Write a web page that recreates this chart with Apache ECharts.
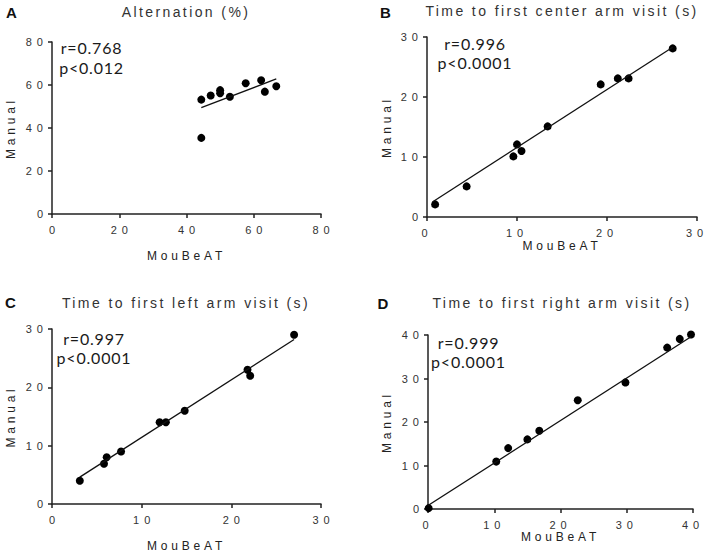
<!DOCTYPE html>
<html><head><meta charset="utf-8">
<script src="https://cdn.jsdelivr.net/npm/echarts@6/dist/echarts.min.js"></script>
<style>
html,body{margin:0;padding:0;background:#fff}
#chart{width:708px;height:557px}
#chart text[style*="Liberation Sans"]{letter-spacing:5px}
#chart text[style*="Arial"]{letter-spacing:3.8px}
#chart text[style*="Arial, sans-serif"]{letter-spacing:2.4px}
#chart text[style*="Lato"]{letter-spacing:0.8px}
#chart text[style*="bold"]{letter-spacing:0}
</style></head><body><div id="chart"></div>
<script>
// Panel A: Alternation (%)
const aX = [44.4, 44.4, 47.2, 50.0, 50.0, 52.9, 57.6, 62.2, 63.3, 66.7];
const aY = [53.2, 35.4, 55.1, 57.6, 56.2, 54.5, 60.8, 62.2, 56.9, 59.4];
const aFit = [[44.4, 49.5], [66.7, 62.8]];
const aTicks = [0, 20, 40, 60, 80];
// Panel B: Time to first center arm visit (s)
const bX = [0.9, 4.4, 9.6, 10.0, 10.5, 13.4, 19.3, 21.2, 22.4, 27.3];
const bY = [2.1, 5.1, 10.1, 12.1, 11.0, 15.1, 22.1, 23.1, 23.1, 28.1];
const bFit = [[0.6, 2.5], [27.3, 28.3]];
const bTicks = [0, 10, 20, 30];
// Panel C: Time to first left arm visit (s)
const cX = [3.1, 5.8, 6.1, 7.7, 12.0, 12.7, 14.8, 21.8, 22.1, 27.0];
const cY = [4.0, 6.9, 8.0, 9.0, 14.0, 14.0, 16.0, 23.0, 22.0, 29.0];
const cFit = [[3.1, 4.6], [27.0, 28.2]];
const cTicks = [0, 10, 20, 30];
// Panel D: Time to first right arm visit (s)
const dX = [0.1, 10.3, 12.1, 15.0, 16.8, 22.6, 29.8, 36.1, 38.0, 39.7];
const dY = [0.2, 10.9, 14.0, 16.0, 18.0, 25.0, 29.1, 37.1, 39.1, 40.1];
const dFit = [[0, 0.8], [39.7, 39.6]];
const dTicks = [0, 10, 20, 30, 40];

const titles = ['Alternation (%)', 'Time to first center arm visit (s)', 'Time to first left arm visit (s)', 'Time to first right arm visit (s)'];
const letters = ['A', 'B', 'C', 'D'];
const statsR = ['r=0.768', 'r=0.996', 'r=0.997', 'r=0.999'];
const statsP = ['p<0.012', 'p<0.0001', 'p<0.0001', 'p<0.0001'];
const xName = 'MouBeAT';
const yName = 'Manual';

const panels = [
  {x: aX, y: aY, fit: aFit, ticks: aTicks},
  {x: bX, y: bY, fit: bFit, ticks: bTicks},
  {x: cX, y: cY, fit: cFit, ticks: cTicks},
  {x: dX, y: dY, fit: dFit, ticks: dTicks}
];

// layout
const grids = [
  {left: 52, top: 42, width: 269, height: 172},
  {left: 427, top: 37, width: 270, height: 180},
  {left: 52, top: 329, width: 269, height: 175},
  {left: 428, top: 335, width: 265, height: 174}
];
const xGaps = [36, 23, 36, 22];
const yGaps = [35, 34, 35, 35];
const xPad = [[0, 0, 0, 5], [0, 0, 0, 0], [0, 0, 0, 5], [0, 0, 0, 0]];
const titlePos = [[186, 12], [562, 11], [186, 303], [562, 303]];
const letterPos = [[11.5, 12], [385.5, 12], [10.5, 302.5], [383, 303]];
const statPos = [[91.5, 47.8, 67.3], [475, 43, 62.5], [94, 338, 357.5], [468.5, 342, 361.5]];

const ink = '#222';
const axisCommon = (i, ticks) => ({
  gridIndex: i,
  min: ticks[0],
  max: ticks[ticks.length - 1],
  interval: ticks[1] - ticks[0],
  splitLine: {show: false},
  axisLine: {show: true, onZero: false, lineStyle: {color: ink, width: 1.5}},
  axisTick: {show: true, length: 4, lineStyle: {color: ink, width: 1.5}},
  nameLocation: 'middle',
  nameTextStyle: {fontFamily: 'Arial', fontSize: 12, color: ink}
});

const xAxes = panels.map((p, i) => Object.assign(axisCommon(i, p.ticks), {
  type: 'value', name: xName, nameGap: xGaps[i],
  axisLabel: {fontFamily: 'Liberation Sans', fontSize: 11, color: '#333', margin: 10, padding: xPad[i]}
}));
const yAxes = panels.map((p, i) => Object.assign(axisCommon(i, p.ticks), {
  type: 'value', name: yName, nameGap: yGaps[i],
  axisLabel: {fontFamily: 'Liberation Sans', fontSize: 11, color: '#333', margin: 4}
}));

const series = [];
panels.forEach((p, i) => {
  series.push({
    type: 'scatter', xAxisIndex: i, yAxisIndex: i, clip: false,
    symbol: 'circle', symbolSize: 8,
    itemStyle: {color: '#000', opacity: 1},
    data: p.x.map((v, k) => [v, p.y[k]])
  });
  series.push({
    type: 'line', xAxisIndex: i, yAxisIndex: i, clip: false,
    symbol: 'none', lineStyle: {color: '#111', width: 1.3},
    data: p.fit
  });
});

const center = {align: 'center', verticalAlign: 'middle', textAlign: 'center', textVerticalAlign: 'middle'};
const graphic = [];
titles.forEach((t, i) => graphic.push({
  type: 'text', x: titlePos[i][0], y: titlePos[i][1],
  style: Object.assign({text: t, fontFamily: 'Arial, sans-serif', fontSize: 14, fontWeight: 'normal', fill: '#333'}, center)
}));
letters.forEach((t, i) => graphic.push({
  type: 'text', x: letterPos[i][0], y: letterPos[i][1],
  style: Object.assign({text: t, fontFamily: 'Liberation Sans', fontWeight: 'bold', fontSize: 15, fill: '#111'}, center)
}));
statsR.forEach((t, i) => {
  graphic.push({
    type: 'text', x: statPos[i][0], y: statPos[i][1],
    style: Object.assign({text: t, fontFamily: 'Lato', fontSize: 16, lineHeight: 16, fill: '#1a1a1a'}, center)
  });
  graphic.push({
    type: 'text', x: statPos[i][0], y: statPos[i][2],
    style: Object.assign({text: statsP[i], fontFamily: 'Lato', fontSize: 16, lineHeight: 16, fill: '#1a1a1a'}, center)
  });
});

const chart = echarts.init(document.getElementById('chart'), null, {renderer: 'svg'});
chart.setOption({
  animation: false,
  backgroundColor: '#fff',
  grid: grids,
  xAxis: xAxes,
  yAxis: yAxes,
  series: series,
  graphic: graphic
});
</script></body></html>
